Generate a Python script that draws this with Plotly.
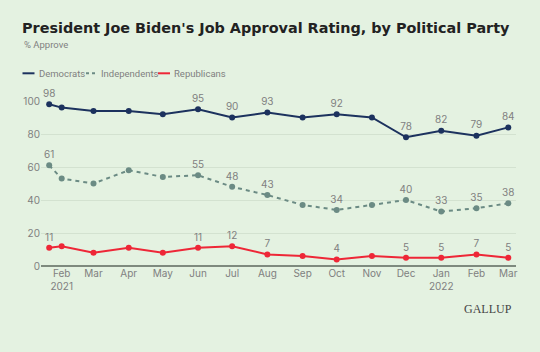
import plotly.graph_objects as go

dates = ["2021-01-21", "2021-02-01", "2021-03-01", "2021-04-01", "2021-05-01", "2021-06-01",
         "2021-07-01", "2021-08-01", "2021-09-01", "2021-10-01", "2021-11-01", "2021-12-01",
         "2022-01-01", "2022-02-01", "2022-03-01"]
democrats = [98, 96, 94, 94, 92, 95, 90, 93, 90, 92, 90, 78, 82, 79, 84]
independents = [61, 53, 50, 58, 54, 55, 48, 43, 37, 34, 37, 40, 33, 35, 38]
republicans = [11, 12, 8, 11, 8, 11, 12, 7, 6, 4, 6, 5, 5, 7, 5]
labeled_idx = [0, 5, 6, 7, 9, 11, 12, 13, 14]

tick_dates = ["2021-02-01", "2021-03-01", "2021-04-01", "2021-05-01", "2021-06-01", "2021-07-01",
              "2021-08-01", "2021-09-01", "2021-10-01", "2021-11-01", "2021-12-01", "2022-01-01",
              "2022-02-01", "2022-03-01"]
tick_text = ["Feb<br>2021", "Mar", "Apr", "May", "Jun", "Jul", "Aug", "Sep", "Oct", "Nov", "Dec",
             "Jan<br>2022", "Feb", "Mar"]

names = ["Democrats", "Independents", "Republicans"]
colors = ["#1C325E", "#6B8B84", "#EE2737"]
dashes = ["solid", "4px,4px", "solid"]
BG = "#E4F2E1"
GREY = "#808080"
FONT = "Inter"
SMALL = "Roboto"

fig = go.Figure()
for name, vals, col, dash in zip(names, [democrats, independents, republicans], colors, dashes):
    txt = [str(v) if i in labeled_idx else "" for i, v in enumerate(vals)]
    fig.add_trace(go.Scatter(
        x=dates, y=vals, name=name, mode="lines+markers+text",
        line=dict(color=col, width=2, dash=dash),
        marker=dict(color=col, size=6),
        text=txt, textposition="top center",
        textfont=dict(color=GREY, size=10, family=FONT),
        cliponaxis=False, showlegend=False,
    ))

L, R, T, B = 41, 24, 101, 86
W, H = 540, 352
pw, ph = W - L - R, H - T - B

def px(x):
    return (x - L) / pw

def py(y):
    return (H - B - y) / ph

shapes = []
annotations = []
# manual legend
leg = [(22.5, 34.5, 36.5), (86, 97, 99), (158, 170, 172)]
for (x0, x1, tx), name, col, dash in zip(leg, names, colors, ["solid", "dash", "solid"]):
    shapes.append(dict(type="line", xref="paper", yref="paper", x0=px(x0), x1=px(x1),
                       y0=py(73.3), y1=py(73.3),
                       line=dict(color=col, width=2, dash="3px,3px" if dash == "dash" else "solid")))
    annotations.append(dict(xref="paper", yref="paper", x=px(tx), y=py(73.3), text=name,
                            xanchor="left", yanchor="middle", showarrow=False,
                            font=dict(color=GREY, size=9.5, family=SMALL)))

annotations.append(dict(xref="paper", yref="paper", x=px(21.5), y=py(44.5), text="% Approve",
                        xanchor="left", yanchor="middle", showarrow=False,
                        font=dict(color=GREY, size=9.5, family=SMALL)))
annotations.append(dict(xref="paper", yref="paper", x=px(514), y=py(309), text="GALLUP",
                        xanchor="right", yanchor="middle", showarrow=False,
                        font=dict(color="#444444", size=12, family="Liberation Serif")))

fig.update_layout(
    width=W, height=H,
    margin=dict(l=L, r=R, t=T, b=B),
    paper_bgcolor=BG, plot_bgcolor=BG,
    title=dict(text="<b>President Joe Biden's Job Approval Rating, by Political Party</b>",
               x=22 / W, xref="container", xanchor="left",
               y=1 - 28 / H, yref="container", yanchor="middle",
               font=dict(color="#222222", size=14.4, family="DejaVu Sans")),
    shapes=shapes, annotations=annotations,
    xaxis=dict(type="date", range=["2021-01-13 19:00", "2022-03-07 19:00"],
               tickvals=tick_dates, ticktext=tick_text, showgrid=False, zeroline=False,
               showline=False, ticks="", tickfont=dict(color=GREY, size=10, family=FONT)),
    yaxis=dict(range=[0, 100], tickvals=[0, 20, 40, 60, 80, 100], showgrid=True,
               gridcolor="#D3E2D0", gridwidth=1, zeroline=True, zerolinecolor="#7E8A7E",
               zerolinewidth=1.5, showline=False, ticks="",
               tickfont=dict(color=GREY, size=10, family=FONT)),
    font=dict(family=FONT),
)

fig.write_html("out.html")
